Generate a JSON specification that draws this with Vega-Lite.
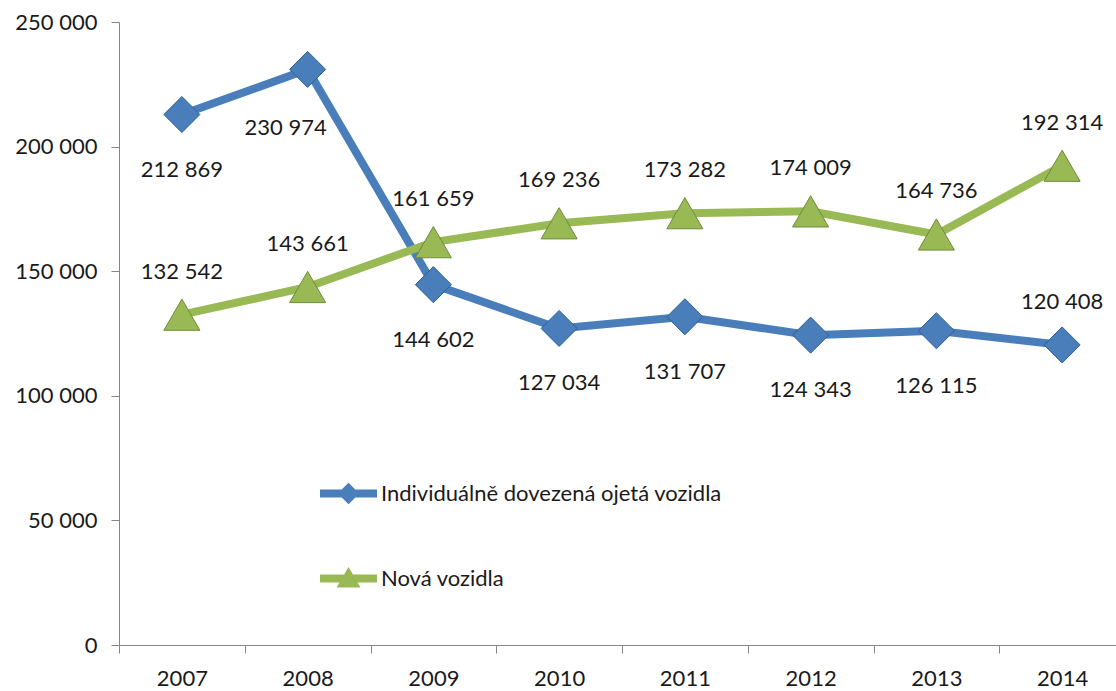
{
  "$schema": "https://vega.github.io/schema/vega-lite/v6.json",
  "width": 997,
  "height": 623,
  "autosize": {"type": "none"},
  "padding": {"left": 119, "top": 22, "right": 0, "bottom": 46},
  "background": "white",
  "config": {
    "locale": {"number": {"decimal": ",", "thousands": " ", "grouping": [3], "currency": ["", ""]}},
    "view": {"stroke": null},
    "font": "Lato"
  },
  "data": {
    "values": [
      {"year": 2007, "series": "Individuálně dovezená ojetá vozidla", "value": 212869},
      {"year": 2008, "series": "Individuálně dovezená ojetá vozidla", "value": 230974},
      {"year": 2009, "series": "Individuálně dovezená ojetá vozidla", "value": 144602},
      {"year": 2010, "series": "Individuálně dovezená ojetá vozidla", "value": 127034},
      {"year": 2011, "series": "Individuálně dovezená ojetá vozidla", "value": 131707},
      {"year": 2012, "series": "Individuálně dovezená ojetá vozidla", "value": 124343},
      {"year": 2013, "series": "Individuálně dovezená ojetá vozidla", "value": 126115},
      {"year": 2014, "series": "Individuálně dovezená ojetá vozidla", "value": 120408},
      {"year": 2007, "series": "Nová vozidla", "value": 132542},
      {"year": 2008, "series": "Nová vozidla", "value": 143661},
      {"year": 2009, "series": "Nová vozidla", "value": 161659},
      {"year": 2010, "series": "Nová vozidla", "value": 169236},
      {"year": 2011, "series": "Nová vozidla", "value": 173282},
      {"year": 2012, "series": "Nová vozidla", "value": 174009},
      {"year": 2013, "series": "Nová vozidla", "value": 164736},
      {"year": 2014, "series": "Nová vozidla", "value": 192314}
    ]
  },
  "encoding": {
    "x": {
      "field": "year",
      "type": "ordinal",
      "scale": {"type": "band", "range": [0, 1006], "paddingInner": 0, "paddingOuter": 0},
      "axis": {
        "title": null,
        "labelAngle": 0,
        "tickBand": "extent",
        "domainColor": "#868686",
        "tickColor": "#868686",
        "tickSize": 8,
        "labelFontSize": 22,
        "labelColor": "#1a1a1a",
        "labelPadding": 15,
        "grid": false
      }
    },
    "y": {
      "field": "value",
      "type": "quantitative",
      "scale": {"domain": [0, 250000], "nice": false},
      "axis": {
        "title": null,
        "values": [0, 50000, 100000, 150000, 200000, 250000],
        "format": ",d",
        "grid": false,
        "domainColor": "#868686",
        "tickColor": "#868686",
        "tickSize": 8,
        "labelFontSize": 22,
        "labelColor": "#1a1a1a",
        "labelPadding": 14
      }
    }
  },
  "layer": [
    {
      "mark": {"type": "line", "strokeWidth": 8},
      "encoding": {
        "color": {
          "field": "series",
          "type": "nominal",
          "scale": {"domain": ["Individuálně dovezená ojetá vozidla", "Nová vozidla"], "range": ["#4A7EBB", "#98B954"]},
          "legend": {
            "orient": "none",
            "legendX": 201,
            "legendY": 443,
            "title": null,
            "padding": 0,
            "symbolSize": 3249,
            "rowPadding": 45,
            "labelOffset": 4,
            "labelFontSize": 22,
            "labelColor": "#1a1a1a",
            "labelLimit": 600,
            "encode": {
              "symbols": {
                "update": {
                  "shape": {"signal": "datum.value === 'Nová vozidla' ? 'M-1,-0.14L1,-0.14L1,0.14L-1,0.14Z M0,-0.4L0.42,0.32L-0.42,0.32Z' : 'M-1,-0.14L1,-0.14L1,0.14L-1,0.14Z M0,-0.38L0.38,0L0,0.38L-0.38,0Z'"},
                  "fill": {"scale": "color", "field": "value"},
                  "fillOpacity": {"value": 1},
                  "stroke": {"value": "transparent"},
                  "strokeWidth": {"value": 0}
                }
              }
            }
          }
        }
      }
    },
    {
      "mark": {"type": "point", "filled": true, "opacity": 1, "size": 1300, "strokeWidth": 1},
      "encoding": {
        "color": {"field": "series", "type": "nominal"},
        "shape": {"condition": {"test": "datum.series === 'Nová vozidla'", "value": "triangle-up"}, "value": "diamond"},
        "stroke": {"condition": {"test": "datum.series === 'Nová vozidla'", "value": "#6E8B3A"}, "value": "#2E5E95"}
      }
    },
    {
      "transform": [{"filter": "datum.series === 'Individuálně dovezená ojetá vozidla' && datum.year !== 2014 && datum.year !== 2008"}],
      "mark": {"type": "text", "dy": 55, "baseline": "middle", "fontSize": 22, "color": "#1a1a1a"},
      "encoding": {"text": {"field": "value", "type": "quantitative", "format": ","}}
    },
    {
      "transform": [{"filter": "datum.series === 'Individuálně dovezená ojetá vozidla' && datum.year === 2008"}],
      "mark": {"type": "text", "dy": 59, "dx": -22, "baseline": "middle", "fontSize": 22, "color": "#1a1a1a"},
      "encoding": {"text": {"field": "value", "type": "quantitative", "format": ","}}
    },
    {
      "transform": [{"filter": "datum.series === 'Nová vozidla' || datum.year === 2014"}],
      "mark": {"type": "text", "dy": -43, "baseline": "middle", "fontSize": 22, "color": "#1a1a1a"},
      "encoding": {"text": {"field": "value", "type": "quantitative", "format": ","}}
    }
  ]
}
